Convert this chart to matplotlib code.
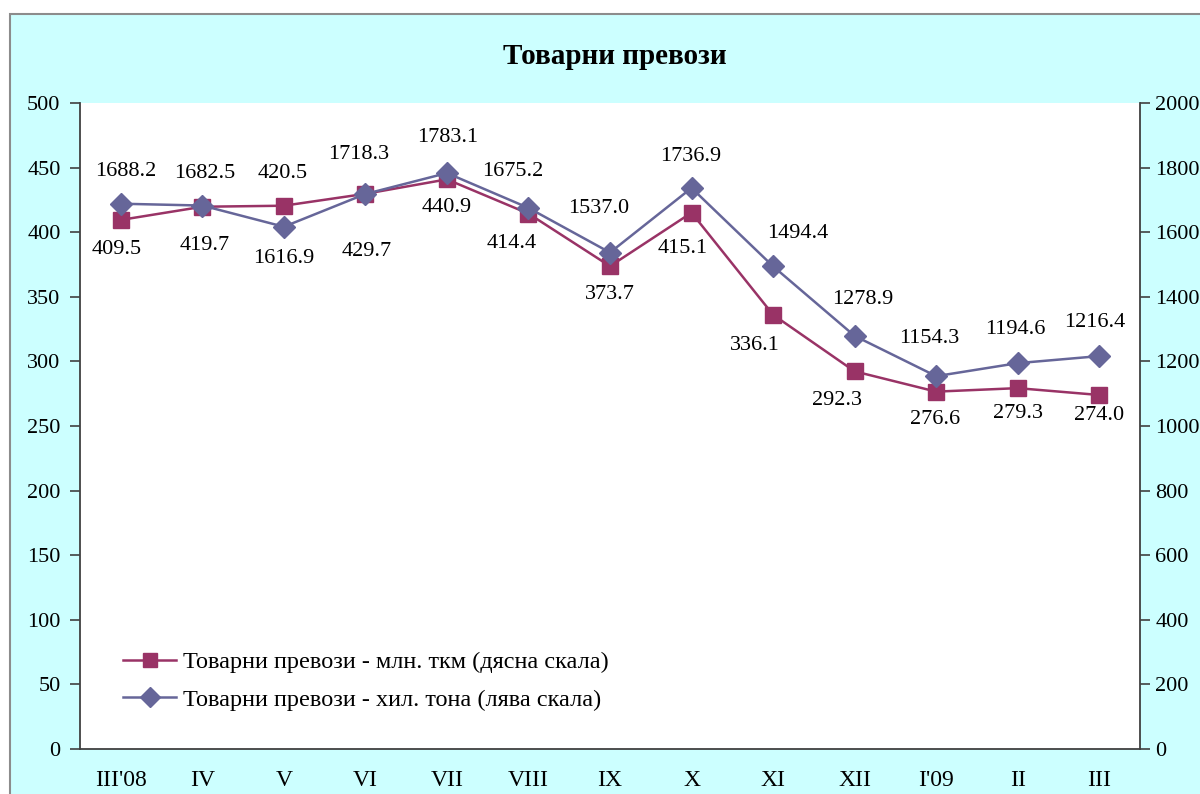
import matplotlib
matplotlib.use("Agg")
import matplotlib.pyplot as plt
from matplotlib.patches import Rectangle

# ---- data ----
categories = ["III'08", "IV", "V", "VI", "VII", "VIII", "IX", "X", "XI", "XII", "I'09", "II", "III"]
tkm_values = [409.5, 419.7, 420.5, 429.7, 440.9, 414.4, 373.7, 415.1, 336.1, 292.3, 276.6, 279.3, 274.0]
tons_values = [1688.2, 1682.5, 1616.9, 1718.3, 1783.1, 1675.2, 1537.0, 1736.9, 1494.4, 1278.9, 1154.3, 1194.6, 1216.4]
left_ticks = [0, 50, 100, 150, 200, 250, 300, 350, 400, 450, 500]
right_ticks = [0, 200, 400, 600, 800, 1000, 1200, 1400, 1600, 1800, 2000]
title = "Товарни превози"
label_tkm = "Товарни превози - млн. ткм (дясна скала)"
label_tons = "Товарни превози - хил. тона (лява скала)"

# label offsets in pixels (dx, dy) relative to the point
tkm_offsets = [(-4, -30), (2, -39), (-1, 32), (1, -58), (0, -28), (-17, -30), (0, -28),
               (-9, -36), (-18, -31), (-18, -29), (-1, -28), (0, -25), (0, -21)]
tons_offsets = [(5, 32), (2, 32), (0, -32), (-7, 39), (1, 36), (-16, 36), (-11, 44),
                (-1, 31), (25, 33), (8, 36), (-7, 38), (-2, 34), (-4, 34)]

C_TKM = "#993366"
C_TONS = "#666699"
FONT = "Liberation Serif"
FS = 16

plt.rcParams['font.family'] = [FONT, 'DejaVu Serif']

fig = plt.figure(figsize=(12, 7.94), dpi=100)
fig.patch.set_facecolor("white")
# cyan chart area with grey border
bg = Rectangle((10 / 1200, -0.05), 1.1, (794 - 14) / 794 + 0.05,
               transform=fig.transFigure, facecolor="#CCFFFF",
               edgecolor="#8c8c8c", linewidth=1.5, zorder=-10)
fig.patches.append(bg)

ax = fig.add_axes([80 / 1200, (794 - 749) / 794, 1060 / 1200, 646 / 794])
ax.set_facecolor("white")
ax2 = ax.twinx()

x = list(range(len(categories)))
l1, = ax.plot(x, tkm_values, color=C_TKM, lw=1.8, marker="s", ms=11,
              markerfacecolor=C_TKM, markeredgecolor=C_TKM, zorder=3)
l2, = ax2.plot(x, tons_values, color=C_TONS, lw=1.8, marker="D", ms=11,
               markerfacecolor=C_TONS, markeredgecolor=C_TONS, zorder=3)

for xi, v, (dx, dy) in zip(x, tkm_values, tkm_offsets):
    ax.annotate(f"{v:.1f}", (xi, v), xytext=(dx, dy), textcoords="offset pixels",
                ha="center", va="center", fontsize=FS, color="black")
for xi, v, (dx, dy) in zip(x, tons_values, tons_offsets):
    ax2.annotate(f"{v:.1f}", (xi, v), xytext=(dx, dy), textcoords="offset pixels",
                 ha="center", va="center", fontsize=FS, color="black")

ax.set_xlim(-0.5, len(categories) - 0.5)
ax.set_ylim(0, 500)
ax2.set_ylim(0, 2000)
ax.set_yticks(left_ticks)
ax2.set_yticks(right_ticks)
ax.set_xticks(x)
ax.set_xticklabels(categories, fontsize=17)
ax.tick_params(axis="x", length=0, pad=15)
ax.tick_params(axis="y", direction="out", length=7, width=1.2, color="#404040",
               labelsize=FS, pad=7)
ax2.tick_params(axis="y", direction="out", length=7, width=1.2, color="#404040",
                labelsize=FS, pad=4)

for a in (ax, ax2):
    a.spines["top"].set_visible(False)
    for s in ("left", "right", "bottom"):
        a.spines[s].set_color("#404040")
        a.spines[s].set_linewidth(1.3)
ax2.spines["left"].set_visible(False)
ax2.spines["bottom"].set_visible(False)
ax.spines["right"].set_visible(False)

fig.text(615 / 1200, 1 - 56 / 794, title, ha="center", va="center",
         fontsize=21, fontweight="bold")

leg = ax2.legend([l1, l2], [label_tkm, label_tons], loc="center left",
                 bbox_to_anchor=(43 / 1060, (749 - 681) / 646), frameon=False,
                 fontsize=17.5, borderpad=0, borderaxespad=0,
                 handlelength=2.2, handletextpad=0.25, labelspacing=0.65,
                 markerscale=0.9)

fig.savefig("out.png", dpi=100)
